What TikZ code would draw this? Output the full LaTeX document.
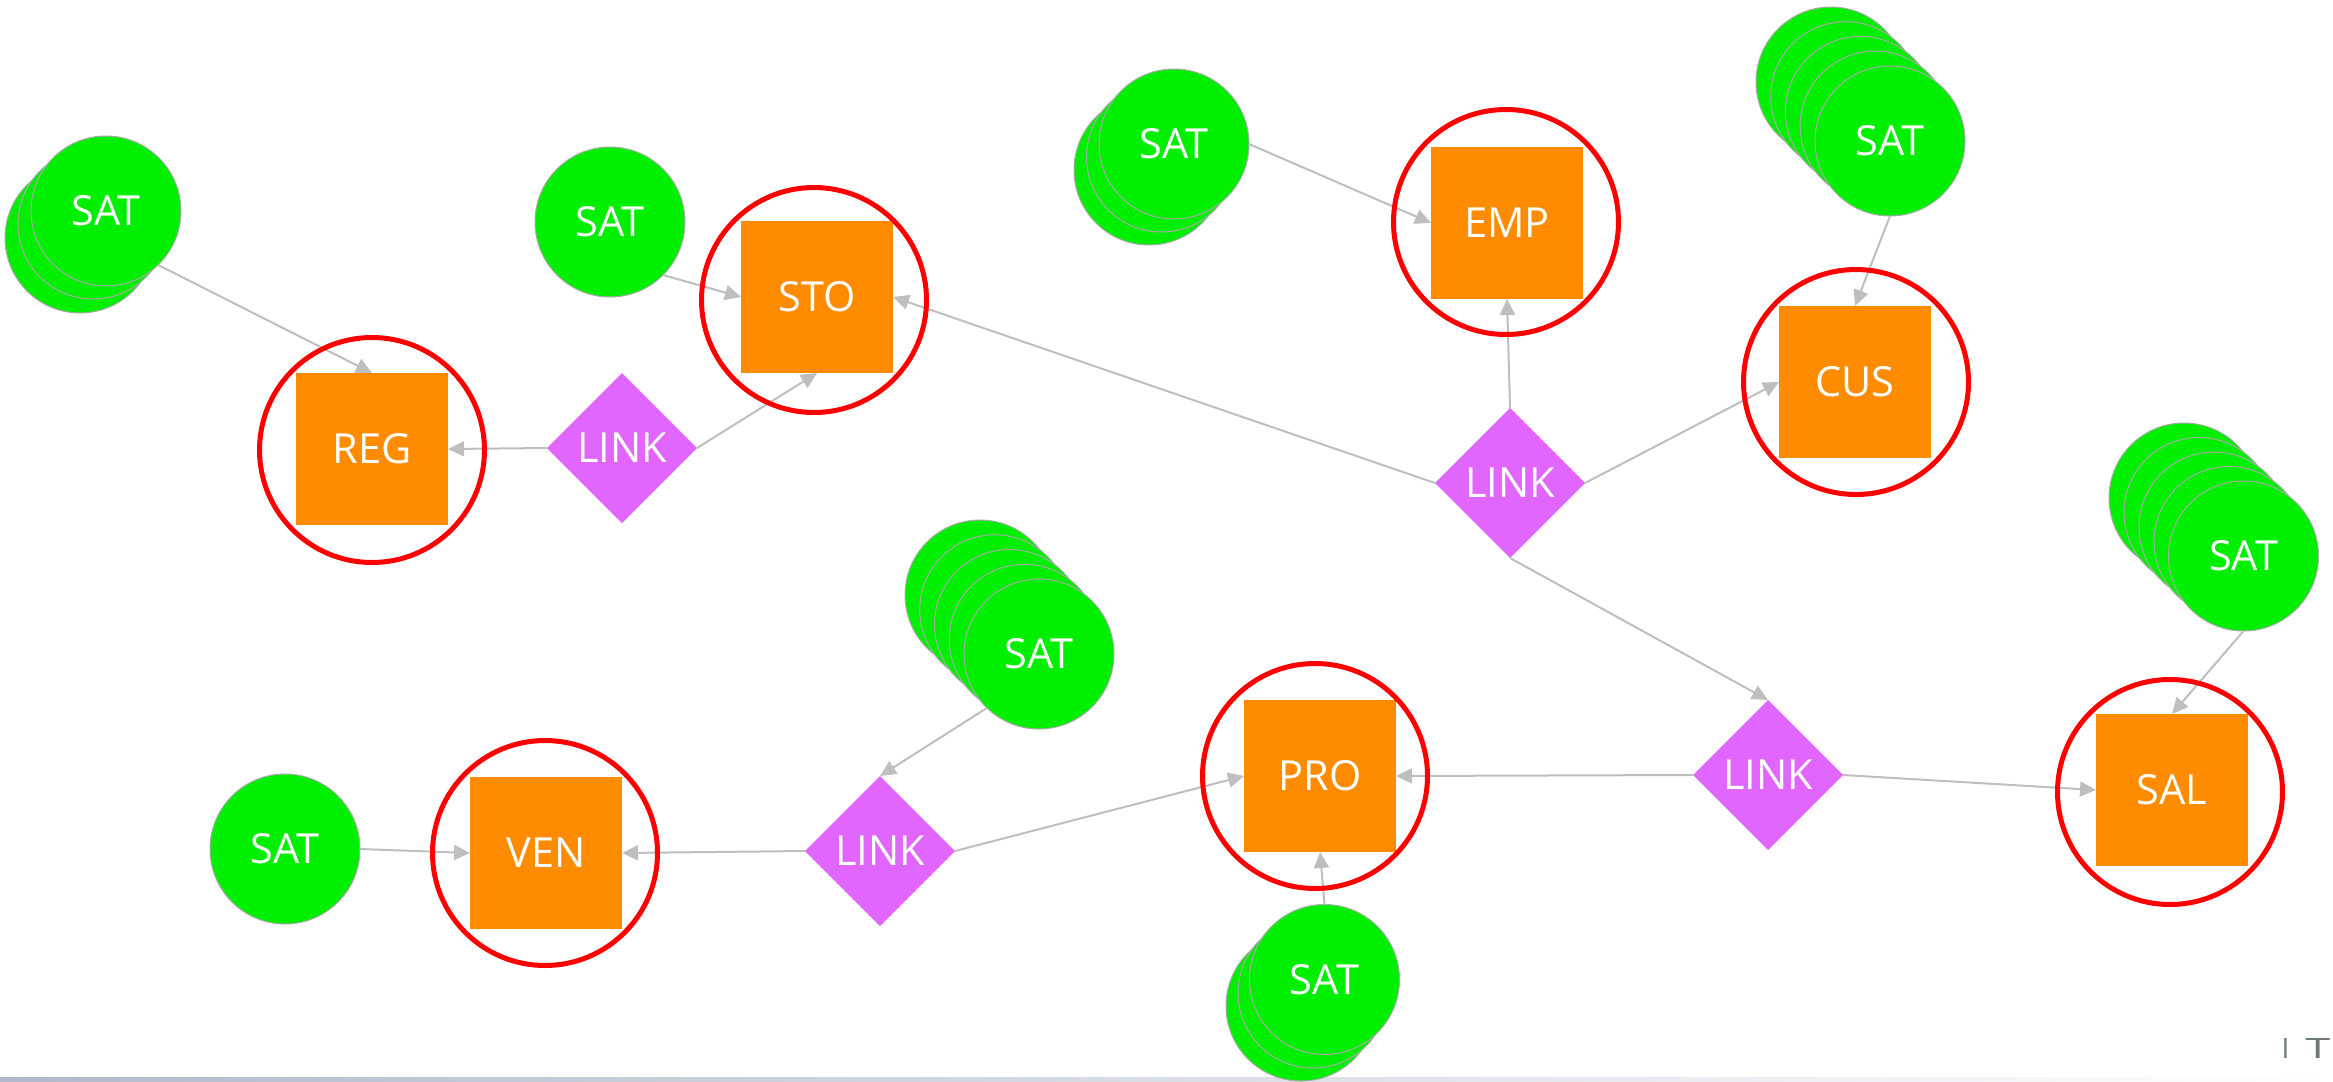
\documentclass[tikz,border=0pt]{standalone}
\usepackage{fontspec}
\setmainfont{Open Sans}
\usetikzlibrary{shapes.geometric,arrows.meta}
\definecolor{satgreen}{RGB}{0,238,0}
\definecolor{entorange}{RGB}{255,140,0}
\definecolor{linkpink}{RGB}{224,102,255}
\definecolor{edgegray}{RGB}{190,190,190}
\definecolor{ringred}{RGB}{255,0,0}
\definecolor{satline}{RGB}{170,170,170}
\definecolor{bargray}{RGB}{178,185,202}
\definecolor{logogray}{RGB}{110,120,120}
\newcommand\lblfont{\fontsize{11.8}{14}\selectfont}
\begin{document}
\begin{tikzpicture}[x=0.1mm,y=-0.1mm,
  sat/.style={circle,fill=satgreen,draw=satline,line width=0.1mm,minimum size=15mm,inner sep=0pt,outer sep=0pt,text=white,font=\lblfont},
  ent/.style={rectangle,fill=entorange,minimum size=15.2mm,inner sep=0pt,outer sep=0pt,text=white,font=\lblfont},
  lnk/.style={diamond,fill=linkpink,minimum width=15mm,minimum height=15mm,shape aspect=1,inner sep=0pt,outer sep=0pt,text=white,font=\lblfont},
  ring/.style={circle,draw=ringred,line width=0.5mm,minimum size=22.5mm,inner sep=0pt},
  conn/.style={draw=edgegray,line width=0.2mm,-{Triangle[length=1.6mm,width=1.5mm]}}
]
\useasboundingbox (0,0) rectangle (2333,1081);
% bottom bar
\shade[left color=bargray,right color=white] (0,1077) rectangle (2333,1081);
\node[anchor=base east,inner sep=0pt,text=logogray,font=\fontsize{8}{9}\selectfont] (logo) at (2331,1058) {I\hspace{1.6mm}\scalebox{1.6}[1]{T}};

% satellites (stacks: back first)
\node[sat] (regsat3) at (80,238) {};
\node[sat] (regsat2) at (93,224) {};
\node[sat] (regsat) at (106,211) {SAT};

\node[sat] (stosat) at (610,222) {SAT};

\node[sat] (empsat3) at (1149,170) {};
\node[sat] (empsat2) at (1161.5,157) {};
\node[sat] (empsat) at (1174,144) {SAT};

\node[sat] (cussat5) at (1831,82) {};
\node[sat] (cussat4) at (1845.7,96.7) {};
\node[sat] (cussat3) at (1860.4,111.4) {};
\node[sat] (cussat2) at (1875.1,126.1) {};
\node[sat] (cussat) at (1890,141) {SAT};

\node[sat] (salsat5) at (2184,498) {};
\node[sat] (salsat4) at (2199,512.5) {};
\node[sat] (salsat3) at (2214,527) {};
\node[sat] (salsat2) at (2229,541.5) {};
\node[sat] (salsat) at (2243.5,556) {SAT};

\node[sat] (linksat5) at (980,595) {};
\node[sat] (linksat4) at (994.75,609.75) {};
\node[sat] (linksat3) at (1009.5,624.5) {};
\node[sat] (linksat2) at (1024.25,639.25) {};
\node[sat] (linksat) at (1039,654) {SAT};

\node[sat] (prosat3) at (1301,1006) {};
\node[sat] (prosat2) at (1313,993) {};
\node[sat] (prosat) at (1324.5,979.5) {SAT};

\node[sat] (vensat) at (285,849) {SAT};

% entities
\node[ent] (reg) at (372,449) {REG};
\node[ent] (sto) at (817,297) {STO};
\node[ent] (emp) at (1507,223) {EMP};
\node[ent] (cus) at (1855,382) {CUS};
\node[ent] (pro) at (1320,776) {PRO};
\node[ent] (sal) at (2172,790) {SAL};
\node[ent] (ven) at (546,853) {VEN};

% links
\node[lnk] (link1) at (622,448) {LINK};
\node[lnk] (link2) at (1510,483) {LINK};
\node[lnk] (link3) at (1768,775) {LINK};
\node[lnk] (link4) at (880,851) {LINK};

% connectors
\draw[conn] (regsat.-46) -- (reg.north);
\draw[conn] (stosat.-45) -- (sto.west);
\draw[conn] (link1.west) -- (reg.east);
\draw[conn] (link1.east) -- (sto.south);
\draw[conn] (empsat.east) -- (emp.west);
\draw[conn] (link2.north) -- (emp.south);
\draw[conn] (link2.east) -- (cus.west);
\draw[conn] (link2.west) -- (sto.east);
\draw[conn] (link2.south) -- (link3.north);
\draw[conn] (cussat.south) -- (cus.north);
\draw[conn] (salsat.south) -- (sal.north);
\draw[conn] (link3.west) -- (pro.east);
\draw[conn] (link3.east) -- (sal.west);
\draw[conn] (prosat.north) -- (pro.south);
\draw[conn] (link4.east) -- (pro.west);
\draw[conn] (link4.west) -- (ven.east);
\draw[conn] (vensat.east) -- (ven.west);
\draw[conn] (linksat.-134) -- (link4.north);

% red rings
\node[ring] (regring) at (372,450) {};
\node[ring] (storing) at (814,300) {};
\node[ring] (empring) at (1506,222) {};
\node[ring] (cusring) at (1856,382) {};
\node[ring] (proring) at (1315,776) {};
\node[ring] (salring) at (2170,792) {};
\node[ring] (venring) at (545,853) {};
\end{tikzpicture}
\end{document}
